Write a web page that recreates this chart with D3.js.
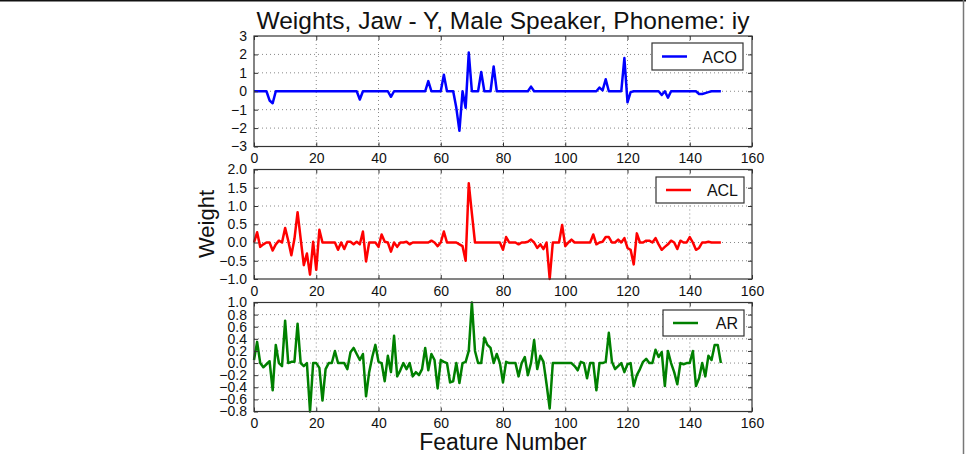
<!DOCTYPE html>
<html>
<head>
<meta charset="utf-8">
<script src="https://cdn.jsdelivr.net/npm/d3@7"></script>
<style>
  body { margin: 0; background: #fff; }
  svg text { font-family: "Liberation Sans", Arial, sans-serif; fill: #111; }
</style>
</head>
<body>
<div id="chart"></div>
<script>
// series values, feature 0..150
var aco = [
  0,0,0,0,0,-0.5,-0.65,0,0,0,
  0,0,0,0,0,0,0,0,0,0,
  0,0,0,0,0,0,0,0,0,0,
  0,0,0,0,-0.45,0,0,0,0,0,
  0,0,0,0,-0.3,0,0,0,0,0,
  0,0,0,0,0,0,0.55,0,0,0,
  0,0.9,0,0,0,-0.9,-2.15,0,-0.9,2.1,
  0,0,0,1.05,0,0,0,1.35,0,0,
  0,0,0,0,0,0,0,0,0,0.25,
  0,0,0,0,0,0,0,0,0,0,
  0,0,0,0,0,0,0,0,0,0,
  0,0.2,0.05,0.65,0,0,0,0,0,1.8,
  -0.6,-0.05,0,0,0,0,0,0,0,0,
  0,-0.2,0,-0.35,0,0,0,0,0,0,
  0,0,0,-0.15,-0.15,-0.1,-0.05,0,0,0,
  0
];
var acl = [
  0,0.28,-0.12,-0.05,0,0,-0.22,-0.05,0.05,0,
  0.4,0.05,-0.35,0.1,0.83,0.1,-0.62,-0.3,-0.88,0.02,
  -0.75,0.35,0,0,0,0,0,-0.2,0,-0.18,
  0.02,0.02,-0.05,0.02,-0.05,0.3,-0.52,0,0,0,
  -0.12,0.22,0.02,0,-0.25,0,-0.12,0,0,0.02,
  -0.05,0,0,0,0,0,0,0.05,0,-0.1,
  0,0.3,0,0,0,0,-0.05,-0.1,-0.5,1.62,
  0.8,0,0,0,0,0,0,0,0,0,
  -0.2,0.15,0,0,0,-0.05,0,0,0.02,0.08,
  0,-0.15,-0.05,-0.18,0,-1.0,0,0,0,0.48,
  -0.1,0,0.08,0,0,0,0,0,0,0.22,
  -0.05,0,0.02,0.15,0.15,0,0,0.08,0,0.12,
  -0.15,-0.2,-0.6,0.25,0,0,0.05,0.05,0,0.12,
  -0.05,-0.2,-0.12,-0.05,0.05,0,-0.18,0.05,0,0,
  0.15,0,-0.2,-0.15,0,0,0.02,0,0,0,
  0
];
var ar = [
  0.05,0.35,0,-0.07,-0.02,0.03,-0.45,0.3,0,-0.05,
  0.7,0,0.02,0.02,0.65,0,-0.05,0,-0.8,0,
  0,-0.08,-0.62,-0.1,0,0,0.2,0,0,0,
  -0.1,0.18,0.25,0.15,0.05,0.15,-0.55,-0.15,0.1,0.3,
  0.02,0,-0.3,0.12,-0.15,0.45,-0.22,-0.12,0,-0.1,
  0,-0.22,-0.15,-0.2,-0.1,0.25,-0.12,0.15,0.05,-0.42,
  0.05,0.02,0,-0.32,-0.3,0,-0.33,0,0.02,0.2,
  1.0,0.2,0,0,0.42,0.3,0.25,0,0.15,0,
  -0.32,0.02,0,0,0,-0.22,0,0.1,-0.2,0,
  0.38,-0.1,0.12,0.02,-0.35,-0.75,0,0,0,0,
  0,0,0,-0.05,-0.12,0.02,0,-0.25,0,0,
  -0.45,0,0,0.02,0.5,0.02,-0.1,-0.05,0,-0.15,
  -0.02,0,-0.38,-0.2,-0.1,0.02,0.07,0,0,0.22,
  0.1,0.18,-0.38,0.2,0,-0.15,-0.35,0,-0.02,0,
  0,0.2,-0.38,-0.25,0,-0.22,0.12,0.05,0.3,0.3,
  0
];

var seriesNames = ["ACO", "ACL", "AR"];
var seriesColors = ["#0000ff", "#ff0000", "#008000"];
var xTicks = [0, 20, 40, 60, 80, 100, 120, 140, 160];
var yTicksAco = [-3, -2, -1, 0, 1, 2, 3];
var yTicksAcl = [-1.0, -0.5, 0.0, 0.5, 1.0, 1.5, 2.0];
var yTicksAr = [-0.8, -0.6, -0.4, -0.2, 0.0, 0.2, 0.4, 0.6, 0.8, 1.0];

var W = 966, H = 454;
var left = 254, right = 752;

var svg = d3.select("#chart").append("svg")
    .attr("width", W)
    .attr("height", H);

// image frame bits
svg.append("line").attr("x1", 0).attr("x2", W).attr("y1", 0.5).attr("y2", 0.5)
  .attr("stroke", "#111").attr("stroke-width", 2);
svg.append("line").attr("x1", 963.5).attr("x2", 963.5).attr("y1", 0).attr("y2", H)
  .attr("stroke", "#777").attr("stroke-width", 1.5);

var x = d3.scaleLinear().domain([0, 160]).range([left, right]);

var panels = [
  {data: aco, ticks: yTicksAco, top: 36, bottom: 146.5, fmt: d3.format("d"),
   legend: {x: 652, y: 43, w: 91, h: 27}},
  {data: acl, ticks: yTicksAcl, top: 169.5, bottom: 279, fmt: d3.format(".1f"),
   legend: {x: 656, y: 177, w: 88, h: 26}},
  {data: ar, ticks: yTicksAr, top: 302.5, bottom: 411.5, fmt: d3.format(".1f"),
   legend: {x: 663, y: 310, w: 81, h: 26}}
];

panels.forEach(function(p, k) {
  var y = d3.scaleLinear()
      .domain([p.ticks[0], p.ticks[p.ticks.length - 1]])
      .range([p.bottom, p.top]);
  var g = svg.append("g");

  // grid
  g.selectAll("line.gx").data(xTicks.slice(1, -1)).enter().append("line")
    .attr("x1", function(d) { return x(d); }).attr("x2", function(d) { return x(d); })
    .attr("y1", p.top).attr("y2", p.bottom)
    .attr("stroke", "#888").attr("stroke-width", 1).attr("stroke-dasharray", "1,3");
  g.selectAll("line.gy").data(p.ticks.slice(1, -1)).enter().append("line")
    .attr("x1", left).attr("x2", right)
    .attr("y1", function(d) { return y(d); }).attr("y2", function(d) { return y(d); })
    .attr("stroke", "#888").attr("stroke-width", 1).attr("stroke-dasharray", "1,3");

  // line
  var line = d3.line()
    .x(function(d, i) { return x(i); })
    .y(function(d) { return y(d); });
  g.append("path")
    .datum(p.data)
    .attr("d", line)
    .attr("fill", "none")
    .attr("stroke", seriesColors[k])
    .attr("stroke-width", 2.5)
    .attr("stroke-linejoin", "round");

  // axes, ticks inward
  var xb = g.append("g").attr("transform", "translate(0," + p.bottom + ")")
    .call(d3.axisBottom(x).tickValues(xTicks).tickSizeInner(-4).tickSizeOuter(0).tickPadding(7));
  var xt = g.append("g").attr("transform", "translate(0," + p.top + ")")
    .call(d3.axisTop(x).tickValues(xTicks).tickSizeInner(-4).tickSizeOuter(0).tickFormat(""));
  var yl = g.append("g").attr("transform", "translate(" + left + ",0)")
    .call(d3.axisLeft(y).tickValues(p.ticks).tickSizeInner(-4).tickSizeOuter(0)
      .tickPadding(7).tickFormat(p.fmt));
  var yr = g.append("g").attr("transform", "translate(" + right + ",0)")
    .call(d3.axisRight(y).tickValues(p.ticks).tickSizeInner(-4).tickSizeOuter(0).tickFormat(""));
  [xb, xt, yl, yr].forEach(function(a) {
    a.select(".domain").remove();
    a.selectAll("line").attr("stroke", "#333");
    a.selectAll("text").attr("font-size", 14).attr("fill", "#111")
      .attr("font-family", "Liberation Sans, Arial, sans-serif");
  });

  g.append("rect")
    .attr("x", left).attr("y", p.top)
    .attr("width", right - left).attr("height", p.bottom - p.top)
    .attr("fill", "none").attr("stroke", "#333").attr("stroke-width", 1.2);

  // legend
  var L = p.legend;
  var lg = g.append("g");
  lg.append("rect").attr("x", L.x).attr("y", L.y).attr("width", L.w).attr("height", L.h)
    .attr("fill", "#fff").attr("stroke", "#333").attr("stroke-width", 1.2);
  lg.append("line")
    .attr("x1", L.x + 10).attr("x2", L.x + 35)
    .attr("y1", L.y + L.h / 2).attr("y2", L.y + L.h / 2)
    .attr("stroke", seriesColors[k]).attr("stroke-width", 2.5);
  lg.append("text")
    .attr("x", L.x + L.w - 6).attr("y", L.y + L.h / 2 + 6)
    .attr("text-anchor", "end")
    .attr("font-size", 16)
    .text(seriesNames[k]);
});

svg.append("text")
  .attr("x", (left + right) / 2).attr("y", 29)
  .attr("text-anchor", "middle")
  .attr("font-size", 24.5)
  .text("Weights, Jaw - Y, Male Speaker, Phoneme: iy");

svg.append("text")
  .attr("transform", "translate(214,224) rotate(-90)")
  .attr("text-anchor", "middle")
  .attr("font-size", 22)
  .text("Weight");

svg.append("text")
  .attr("x", (left + right) / 2).attr("y", 450)
  .attr("text-anchor", "middle")
  .attr("font-size", 23)
  .text("Feature Number");
</script>
</body>
</html>
